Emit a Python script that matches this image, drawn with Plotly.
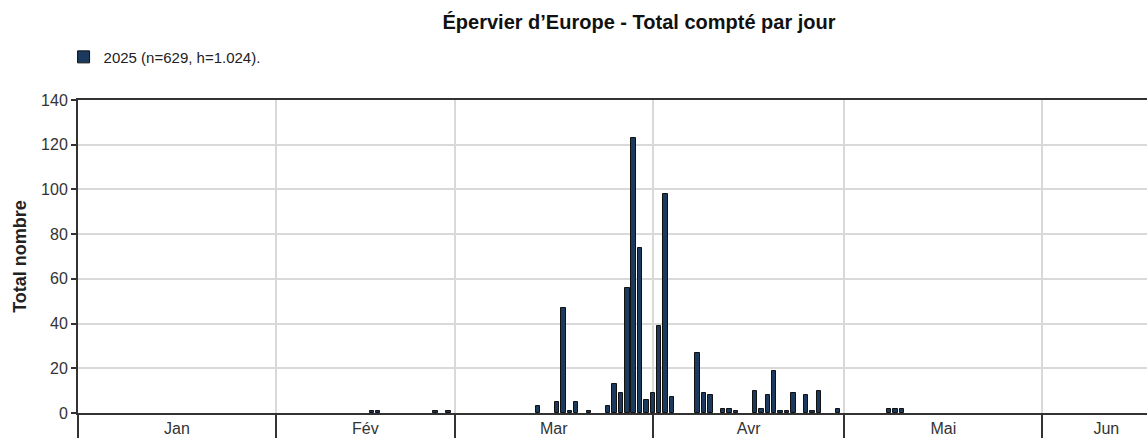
import pandas as pd
import plotly.graph_objects as go

# ---- data ----
dates = ["2025-02-16", "2025-02-17", "2025-02-26", "2025-02-28",
         "2025-03-14", "2025-03-17", "2025-03-18", "2025-03-19", "2025-03-20",
         "2025-03-22", "2025-03-25", "2025-03-26", "2025-03-27", "2025-03-28",
         "2025-03-29", "2025-03-30", "2025-03-31",
         "2025-04-01", "2025-04-02", "2025-04-03", "2025-04-04", "2025-04-08",
         "2025-04-09", "2025-04-10", "2025-04-12", "2025-04-13", "2025-04-14",
         "2025-04-17", "2025-04-18", "2025-04-19", "2025-04-20", "2025-04-21",
         "2025-04-22", "2025-04-23", "2025-04-25", "2025-04-26", "2025-04-27",
         "2025-04-30",
         "2025-05-08", "2025-05-09", "2025-05-10"]
counts = [1, 1, 1, 1,
          3, 5, 47, 1, 5, 1, 3, 13, 9, 56, 123, 74, 6,
          9, 39, 98, 7, 27, 9, 8, 2, 2, 1, 10, 2, 8, 19, 1, 1, 9, 8, 1, 10, 2,
          2, 2, 2]
series_name = "2025 (n=629, h=1.024)."
month_names = ["Jan", "Fév", "Mar", "Avr", "Mai", "Jun"]
month_starts = ["2025-01-01", "2025-02-01", "2025-03-01", "2025-04-01",
                "2025-05-01", "2025-06-01"]
chart_end = "2025-06-21"          # end of the original (cropped) time axis
view_range = ["2025-01-01", "2025-06-17 09:00"]
y_ticks = [0, 20, 40, 60, 80, 100, 120, 140]

# ---- derived ----
bounds = pd.to_datetime(month_starts + [chart_end])
label_pos = [bounds[i] + (bounds[i + 1] - bounds[i]) / 2 for i in range(len(month_names))]

FONT = "Liberation Sans, Arial, sans-serif"
BAR = "#1b3a5e"

fig = go.Figure()
fig.add_trace(go.Bar(
    x=pd.to_datetime(dates), y=counts, name=series_name,
    width=0.7 * 86400000,
    marker=dict(color=BAR, line=dict(color="#111111", width=1)),
    showlegend=True,
))

fig.update_layout(
    width=1147, height=438,
    margin=dict(l=78, r=0, t=100, b=25, autoexpand=False),
    paper_bgcolor="white", plot_bgcolor="white",
    font=dict(family=FONT, size=16, color="#333333"),
    title=dict(text="<b>Épervier d’Europe - Total compté par jour</b>",
               font=dict(family=FONT, size=20, color="#111111"),
               x=639 / 1147, xanchor="center", xref="container",
               y=1 - 22 / 438, yanchor="middle", yref="container"),
    showlegend=True,
    legend=dict(orientation="h", x=-0.0135, xanchor="left",
                y=1.137, yanchor="middle",
                font=dict(family=FONT, size=15, color="#222222"),
                bgcolor="rgba(0,0,0,0)"),
    bargap=0,
)

fig.update_xaxes(
    type="date", range=view_range, automargin=False,
    tickvals=label_pos, ticktext=month_names, ticks="", showgrid=False,
    tickfont=dict(size=16, color="#333333"),
    minor=dict(dtick="M1", tick0="2025-01-01", ticks="outside", ticklen=25,
               tickcolor="#333333", tickwidth=2, showgrid=True,
               gridcolor="#d9d9d9", gridwidth=2),
    showline=True, linecolor="#333333", linewidth=2, mirror=True,
    zeroline=False, fixedrange=True,
)
fig.update_yaxes(
    range=[0, 140], tickvals=y_ticks, ticks="outside", ticklen=5, automargin=False,
    tickcolor="#333333", tickwidth=2,
    tickfont=dict(size=16, color="#333333"),
    showgrid=True, gridcolor="#d9d9d9", gridwidth=2,
    showline=True, linecolor="#333333", linewidth=2, mirror=False,
    zeroline=False,
    title=dict(text="<b>Total nombre</b>", font=dict(family=FONT, size=18, color="#222222"),
               standoff=10),
)

fig.write_html("out.html",
               config={"displayModeBar": False},
               post_script="document.body.style.margin='0';document.body.style.overflow='hidden';")
